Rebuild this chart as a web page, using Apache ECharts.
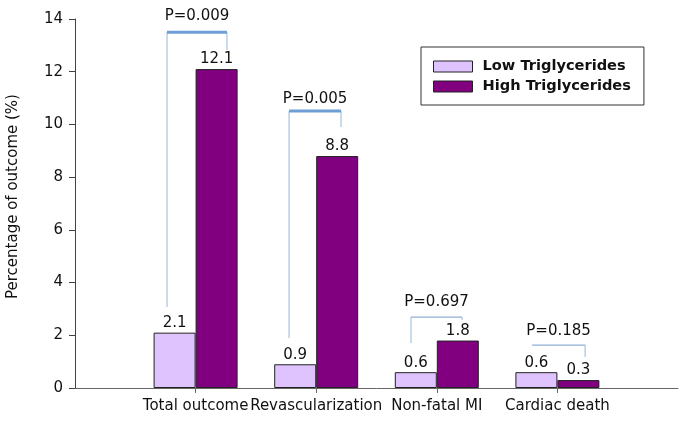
<!DOCTYPE html>
<html>
<head>
<meta charset="utf-8">
<script src="https://cdn.jsdelivr.net/npm/echarts@6/dist/echarts.min.js"></script>
<style>html,body{margin:0;padding:0;background:#fff}#c{width:685px;height:421px}</style>
</head>
<body>
<div id="c"></div>
<script>
// Categories (padded with empty slots so that groups sit on tick marks)
const categories = ['', 'Total outcome', 'Revascularization', 'Non-fatal MI', 'Cardiac death', ''];
const lowTG = [null, 2.1, 0.9, 0.6, 0.6, null];
const highTG = [null, 12.1, 8.8, 1.8, 0.3, null];
const seriesNames = ['Low Triglycerides', 'High Triglycerides'];
const yTicks = [0, 2, 4, 6, 8, 10, 12, 14];
// P-value annotations: label, bracket left x, right x (category units), top y, left-leg bottom, right-leg bottom, label y
const pLabels = ['P=0.009', 'P=0.005', 'P=0.697', 'P=0.185'];
const bracketX0 = [0.763, 1.775, 2.786, 3.79];
const bracketX1 = [1.26, 2.206, 3.209, 4.23];
const bracketTop = [13.5, 10.51, 2.69, 1.63];
const bracketLeftBottom = [3.07, 1.9, 1.71, null];
const bracketRightBottom = [12.82, 9.9, 2.58, 1.18];
const pLabelY = [14.11, 10.96, 3.26, 2.16];

const FONT = 'DejaVu Sans';
const chart = echarts.init(document.getElementById('c'), null, {renderer: 'canvas'});

const bracketData = pLabels.map((p, i) => [bracketX0[i], bracketX1[i], bracketTop[i], bracketLeftBottom[i], bracketRightBottom[i], pLabelY[i], i]);

chart.setOption({
  animation: false,
  backgroundColor: '#fff',
  textStyle: {fontFamily: FONT},
  grid: {left: 75, right: 7, top: 19, bottom: 33, containLabel: false, outerBoundsMode: 'none'},
  legend: {
    orient: 'vertical',
    left: 421, top: 47,
    padding: [12, 13, 11, 12],
    borderColor: '#333', borderWidth: 1,
    icon: 'rect',
    itemWidth: 39, itemHeight: 11, itemGap: 5,
    data: seriesNames,
    itemStyle: {borderColor: '#222', borderWidth: 1},
    textStyle: {fontFamily: FONT, fontWeight: 'bold', fontSize: 14.6, color: '#111', lineHeight: 12, padding: [0, 0, 0, 5]},
    selectedMode: false
  },
  xAxis: [{
    type: 'category',
    data: categories,
    boundaryGap: false,
    axisLine: {lineStyle: {color: '#666', width: 1}},
    axisTick: {show: true, length: 5, lineStyle: {color: '#666'}, interval: (idx) => idx > 0 && idx < categories.length - 1},
    axisLabel: {interval: 0, margin: 11, fontFamily: FONT, fontSize: 15, color: '#111', hideOverlap: false},
    splitLine: {show: false}
  }, {
    type: 'value', min: 0, max: categories.length - 1, show: false
  }],
  yAxis: {
    type: 'value', min: yTicks[0], max: yTicks[yTicks.length - 1], interval: 2,
    name: 'Percentage of outcome (%)', nameLocation: 'middle', nameGap: 54, nameRotate: 90,
    nameTextStyle: {fontFamily: FONT, fontSize: 15, color: '#111', padding: [0, 0, 0, 14]},
    axisLine: {show: true, lineStyle: {color: '#444'}},
    axisTick: {show: true, length: 6, lineStyle: {color: '#444'}},
    axisLabel: {margin: 12, fontFamily: FONT, fontSize: 15, color: '#111'},
    splitLine: {show: false}
  },
  series: [{
    name: seriesNames[0], type: 'bar', data: lowTG, barWidth: 42, barGap: '0%',
    itemStyle: {color: '#DFC3FF', borderColor: '#222', borderWidth: 1},
    label: {show: true, position: 'top', distance: 2, fontFamily: FONT, fontSize: 15, color: '#111'}
  }, {
    name: seriesNames[1], type: 'bar', data: highTG, barWidth: 42, barGap: '0%',
    itemStyle: {color: '#800080', borderColor: '#222', borderWidth: 1},
    label: {show: true, position: 'top', distance: 2, fontFamily: FONT, fontSize: 15, color: '#111'}
  }, {
    type: 'custom', xAxisIndex: 1, yAxisIndex: 0, silent: true, clip: false,
    data: bracketData,
    encode: {x: [0, 1], y: [2]},
    renderItem: function (params, api) {
      const i = api.value(6);
      const x0 = api.value(0), x1 = api.value(1), yt = api.value(2);
      const thick = i < 2;
      const pL = api.coord([x0, yt]);
      const pR = api.coord([x1, yt]);
      const children = [];
      const legColor = '#B8CFE6';
      const topColor = thick ? '#6E9ED6' : '#8FB0D4';
      const lb = bracketLeftBottom[i], rb = bracketRightBottom[i];
      if (lb != null) {
        const b = api.coord([x0, lb]);
        children.push({type: 'line', shape: {x1: pL[0], y1: pL[1], x2: b[0], y2: b[1]}, style: {stroke: legColor, lineWidth: 1.5}});
      }
      if (rb != null) {
        const b = api.coord([x1, rb]);
        children.push({type: 'line', shape: {x1: pR[0], y1: pR[1], x2: b[0], y2: b[1]}, style: {stroke: legColor, lineWidth: 1.5}});
      }
      children.push({type: 'line', shape: {x1: pL[0], y1: pL[1], x2: pR[0], y2: pR[1]}, style: {stroke: topColor, lineWidth: thick ? 3 : 1.2}});
      const t = api.coord([(x0 + x1) / 2, api.value(5)]);
      children.push({type: 'text', x: t[0], y: t[1], style: {text: pLabels[i], fill: '#111', fontFamily: FONT, fontSize: 15, align: 'center', verticalAlign: 'middle'}});
      return {type: 'group', children: children};
    }
  }]
});
</script>
</body>
</html>
